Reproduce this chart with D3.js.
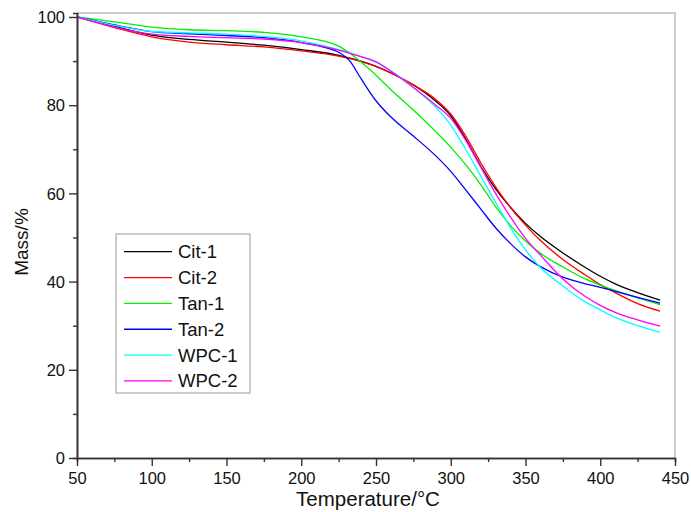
<!DOCTYPE html>
<html>
<head>
<meta charset="utf-8">
<script src="https://cdn.jsdelivr.net/npm/d3@7"></script>
<style>
  html, body { margin: 0; padding: 0; background: #fff; }
  svg { display: block; font-family: "Liberation Sans", Arial, sans-serif; }
</style>
</head>
<body>
<div id="chart"></div>
<script>
const temps = [50, 75, 100, 125, 150, 175, 200, 225, 232, 240, 250, 260, 275, 290, 300, 310, 320, 330, 340, 350, 360, 375, 390, 400, 410, 425, 440];
const cit1 = [100, 97.9, 95.9, 94.9, 94.3, 93.6, 92.6, 91.3, 90.7, 90.0, 88.8, 87.3, 84.6, 80.9, 77.6, 72.3, 66.2, 61.0, 56.8, 53.2, 50.2, 46.5, 43.2, 41.2, 39.5, 37.5, 35.8];
const cit2 = [100, 97.6, 95.5, 94.3, 93.7, 93.2, 92.3, 91.1, 90.6, 89.9, 88.8, 87.3, 84.6, 81.3, 78.0, 73.0, 67.0, 61.5, 56.8, 52.8, 49.3, 45.0, 41.5, 39.3, 37.5, 35.0, 33.3];
const tan1 = [100, 98.9, 97.7, 97.1, 96.9, 96.5, 95.5, 93.4, 91.9, 89.8, 86.8, 83.5, 78.9, 74.0, 70.5, 66.5, 62.0, 57.0, 52.7, 49.2, 46.4, 43.3, 40.6, 39.2, 38.0, 36.3, 34.8];
const tan2 = [100, 98.2, 96.7, 96.2, 95.8, 95.3, 94.2, 92.0, 90.2, 86.0, 81.0, 77.3, 73.0, 68.5, 65.0, 60.8, 56.5, 52.2, 48.6, 45.6, 43.4, 41.0, 39.5, 38.7, 37.8, 36.4, 35.1];
const wpc1 = [100, 98.1, 96.7, 96.4, 96.1, 95.6, 94.6, 92.6, 91.9, 91.0, 89.8, 87.8, 84.0, 79.5, 75.5, 70.0, 64.0, 58.0, 52.2, 47.2, 43.2, 39.0, 35.4, 33.6, 31.9, 30.0, 28.5];
const wpc2 = [100, 97.7, 96.1, 95.6, 95.3, 95.0, 94.2, 92.5, 91.8, 91.0, 89.8, 87.7, 84.0, 80.0, 77.0, 72.0, 66.0, 60.0, 54.6, 49.8, 46.0, 40.6, 36.6, 34.6, 33.0, 31.3, 29.9];

const seriesNames = ['Cit-1', 'Cit-2', 'Tan-1', 'Tan-2', 'WPC-1', 'WPC-2'];
const seriesValues = [cit1, cit2, tan1, tan2, wpc1, wpc2];
const seriesColors = ['#000000', '#ff0000', '#00ee00', '#0000ff', '#00ffff', '#ff00ff'];

const xTicks = [50, 100, 150, 200, 250, 300, 350, 400, 450];
const yTicks = [0, 20, 40, 60, 80, 100];

const width = 691, height = 512;
const plotLeft = 77, plotRight = 675, plotTop = 13, plotBottom = 458;

const svg = d3.select('#chart').append('svg')
  .attr('width', width)
  .attr('height', height);

const x = d3.scaleLinear().domain([50, 450]).range([plotLeft, plotRight]);
const y = d3.scaleLinear().domain([0, 100.9]).range([plotBottom, plotTop]);

// light frame on top and right
svg.append('path')
  .attr('d', `M${plotLeft},${plotTop}H${plotRight}V${plotBottom}`)
  .attr('fill', 'none')
  .attr('stroke', '#bdbdbd')
  .attr('stroke-width', 1.5);

// curves
const line = d3.line()
  .x((d, i) => x(temps[i]))
  .y(d => y(d))
  .curve(d3.curveMonotoneX);

svg.append('g')
  .selectAll('path')
  .data(seriesValues)
  .enter().append('path')
  .attr('d', d => line(d))
  .attr('fill', 'none')
  .attr('stroke', (_, i) => seriesColors[i])
  .attr('stroke-width', 1.3);

// axes
const xAxis = svg.append('g')
  .attr('transform', `translate(0,${plotBottom})`)
  .call(d3.axisBottom(x).tickValues(xTicks).tickSize(8).tickPadding(6).tickSizeOuter(0));
xAxis.append('g')
  .call(d3.axisBottom(x).tickValues(d3.range(75, 450, 50)).tickSize(4).tickFormat(''));

const yAxis = svg.append('g')
  .attr('transform', `translate(${plotLeft},0)`)
  .call(d3.axisLeft(y).tickValues(yTicks).tickSize(8).tickPadding(4).tickSizeOuter(0));
yAxis.append('g')
  .call(d3.axisLeft(y).tickValues(d3.range(10, 100, 20)).tickSize(4).tickFormat(''));

svg.selectAll('.domain').attr('stroke', '#333').attr('stroke-width', 1.6);
svg.selectAll('.tick line').attr('stroke', '#333').attr('stroke-width', 1.4);
svg.selectAll('.tick text')
  .attr('font-family', '"Liberation Sans", Arial, sans-serif')
  .attr('font-size', 16.5)
  .attr('fill', '#111');
yAxis.selectAll('.tick text').attr('dy', '0.35em');

// axis titles
svg.append('text')
  .attr('x', 368)
  .attr('y', 506)
  .attr('text-anchor', 'middle')
  .attr('font-size', 20.5)
  .attr('fill', '#111')
  .text('Temperature/°C');

svg.append('text')
  .attr('transform', 'translate(28,242) rotate(-90)')
  .attr('text-anchor', 'middle')
  .attr('font-size', 19)
  .attr('fill', '#111')
  .text('Mass/%');

// legend
const legend = svg.append('g');
legend.append('rect')
  .attr('x', 116)
  .attr('y', 234)
  .attr('width', 134)
  .attr('height', 159)
  .attr('fill', '#fff')
  .attr('stroke', '#aaaaaa')
  .attr('stroke-width', 1.2);

const items = legend.selectAll('g.item')
  .data(seriesNames)
  .enter().append('g')
  .attr('class', 'item')
  .attr('transform', (_, i) => `translate(0,${251.7 + i * 25.85})`);
items.append('line')
  .attr('x1', 124).attr('x2', 172)
  .attr('stroke', (_, i) => seriesColors[i])
  .attr('stroke-width', 1.3);
items.append('text')
  .attr('x', 178)
  .attr('dy', '0.35em')
  .attr('font-size', 18.5)
  .attr('fill', '#111')
  .text(d => d);
</script>
</body>
</html>
